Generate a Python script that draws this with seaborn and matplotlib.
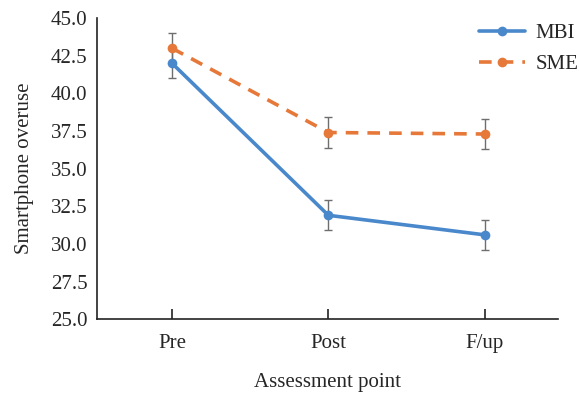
import matplotlib
matplotlib.use("Agg")
import matplotlib.pyplot as plt
import pandas as pd
import seaborn as sns

# values
points = ["Pre", "Post", "F/up"]
mbi = [42.0, 31.9, 30.6]
mbi_err = [1.0, 1.0, 1.0]
sme = [43.0, 37.4, 37.3]
sme_err = [1.0, 1.0, 1.0]

df = pd.DataFrame({
    "point": points * 2,
    "score": mbi + sme,
    "group": ["MBI"] * 3 + ["SME"] * 3,
})

sns.set_style("white")
plt.rcParams["font.family"] = ["Liberation Serif", "DejaVu Serif"]

fig = plt.figure(figsize=(5.79, 3.94), dpi=100)
ax = fig.add_axes([0.1675, 0.19, 0.7965, 0.764])

palette = {"MBI": "#4a88cc", "SME": "#e6793a"}
ax.errorbar(points, mbi, yerr=mbi_err, fmt="none", ecolor="#6e6e6e",
            elinewidth=1.0, capsize=3, zorder=1)
ax.errorbar(points, sme, yerr=sme_err, fmt="none", ecolor="#6e6e6e",
            elinewidth=1.0, capsize=3, zorder=1)
sns.lineplot(data=df, x="point", y="score", hue="group", style="group",
             palette=palette, dashes={"MBI": "", "SME": (3.5, 2.5)},
             markers={"MBI": "o", "SME": "o"}, markersize=7,
             markeredgewidth=0, linewidth=2.6, ax=ax, zorder=2)

ax.set_ylim(25, 45)
ax.set_yticks([25 + 2.5 * i for i in range(9)])
ax.set_yticklabels([f"{25 + 2.5 * i:.1f}" for i in range(9)])
ax.set_xlim(-0.48, 2.47)

sns.despine(ax=ax)
for s in ["left", "bottom"]:
    ax.spines[s].set_color("#222222")
    ax.spines[s].set_linewidth(1.2)
ax.tick_params(axis="x", direction="in", length=7, width=1.2, color="#222222",
               labelsize=15, pad=11, bottom=True)
ax.tick_params(axis="y", length=0, labelsize=15, pad=7)

ax.set_xlabel("Assessment point", fontsize=15, labelpad=14)
ax.set_ylabel("Smartphone overuse", fontsize=15, labelpad=12)

leg = ax.legend(loc="upper right", bbox_to_anchor=(1.085, 1.045), frameon=False,
                fontsize=15, handlelength=2.2, handletextpad=0.5,
                labelspacing=0.55)

fig.savefig("out.png", dpi=100)
